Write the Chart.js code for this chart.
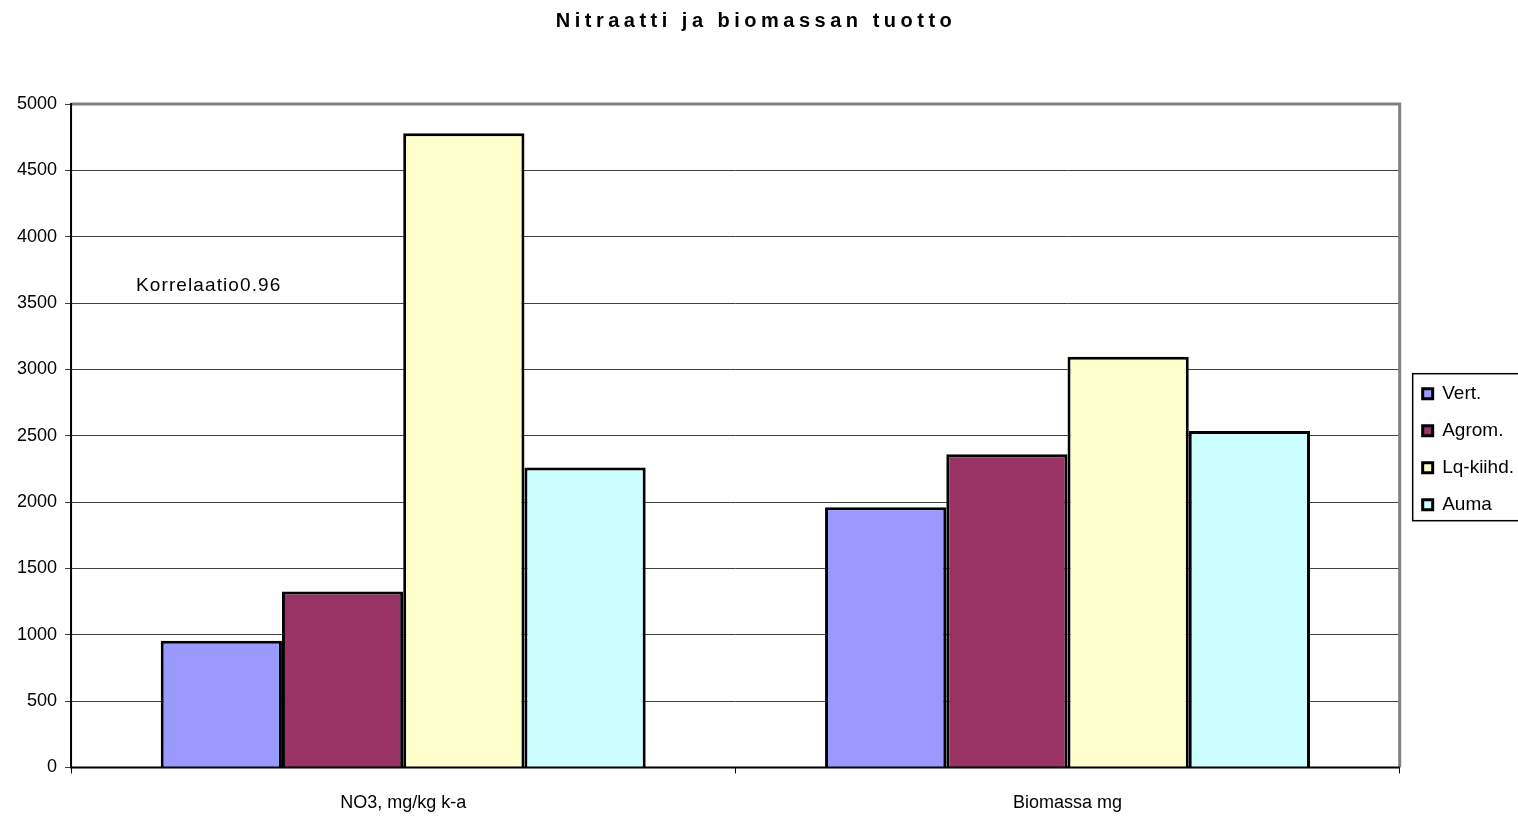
<!DOCTYPE html>
<html>
<head>
<meta charset="utf-8">
<script src="https://cdn.jsdelivr.net/npm/chart.js@4/dist/chart.umd.min.js"></script>
<style>
  html, body { margin: 0; padding: 0; background: #fff; }
  #wrap { width: 1518px; height: 816px; }
</style>
</head>
<body>
<div id="wrap"><canvas id="c" width="1518" height="816"></canvas></div>
<script>
const titleText = "Nitraatti ja biomassan tuotto";
const categories = ["NO3, mg/kg k-a", "Biomassa mg"];
const seriesNames = ["Vert.", "Agrom.", "Lq-kiihd.", "Auma"];
const vert = [955, 1960];
const agrom = [1325, 2360];
const lqKiihd = [4780, 3095];
const auma = [2260, 2535];
const seriesColors = ["#9999FF", "#993366", "#FFFFCC", "#CCFFFF"];
const yTicks = [0, 500, 1000, 1500, 2000, 2500, 3000, 3500, 4000, 4500, 5000];
const noteText = "Korrelaatio0.96";
const noteValue = 3590;

const FONT = "'Liberation Sans', Arial, sans-serif";
const seriesValues = [vert, agrom, lqKiihd, auma];

const decor = {
  id: 'decor',
  afterDraw(chart) {
    const ctx = chart.ctx;
    const a = chart.chartArea;
    ctx.save();
    // gray top/right frame
    ctx.strokeStyle = '#808080';
    ctx.lineWidth = 3;
    ctx.beginPath();
    ctx.moveTo(a.left, a.top);
    ctx.lineTo(a.right, a.top);
    ctx.lineTo(a.right, a.bottom);
    ctx.stroke();
    // black axes
    ctx.strokeStyle = '#000';
    ctx.lineWidth = 2;
    ctx.beginPath();
    ctx.moveTo(a.left, a.top - 1);
    ctx.lineTo(a.left, a.bottom);
    ctx.lineTo(a.right, a.bottom);
    ctx.stroke();
    // legend frame around the items
    const hb = chart.legend.legendHitBoxes;
    if (hb && hb.length) {
      const c0 = hb[0].top + hb[0].height / 2;
      const last = hb[hb.length - 1];
      const c1 = last.top + last.height / 2;
      const l = hb[0].left - 10;
      const t = c0 - 20;
      const b = c1 + 16;
      ctx.strokeStyle = '#000';
      ctx.lineWidth = 1.5;
      ctx.strokeRect(l, t, chart.width - l + 20, b - t);
    }
    // title
    ctx.fillStyle = '#000';
    ctx.font = "bold 20px " + FONT;
    ctx.textAlign = 'center';
    ctx.textBaseline = 'middle';
    ctx.letterSpacing = '4.5px';
    ctx.fillText(titleText, 756, 21);
    // note
    ctx.letterSpacing = '1.1px';
    ctx.font = "19px " + FONT;
    ctx.textAlign = 'left';
    ctx.textBaseline = 'alphabetic';
    const y = chart.scales.y.getPixelForValue(noteValue);
    ctx.fillText(noteText, a.left + 65, y);
    ctx.restore();
  }
};

new Chart(document.getElementById('c'), {
  type: 'bar',
  data: {
    labels: categories,
    datasets: seriesNames.map((n, i) => ({
      label: n,
      data: seriesValues[i],
      backgroundColor: seriesColors[i],
      borderColor: '#000',
      borderWidth: 3,
      borderSkipped: 'start',
      categoryPercentage: 0.73,
      barPercentage: 1.0
    }))
  },
  options: {
    responsive: false,
    animation: false,
    layout: { padding: { top: 104, right: -6, left: 9, bottom: -17 } },
    plugins: {
      title: { display: false },
      tooltip: { enabled: false },
      legend: {
        position: 'right',
        align: 'center',
        fullSize: false,
        title: { display: true, text: ' ', font: { size: 10 }, padding: { top: 7, bottom: 8 } },
        labels: {
          color: '#000',
          font: { family: FONT, size: 19 },
          boxWidth: 10,
          boxHeight: 10,
          padding: 18
        }
      }
    },
    scales: {
      x: {
        grid: { display: true, drawOnChartArea: false, drawTicks: true, tickLength: 6, color: '#000', lineWidth: 1, offset: true },
        border: { display: false },
        ticks: { color: '#000', font: { family: FONT, size: 18 }, padding: 19 }
      },
      y: {
        min: 0,
        max: 5000,
        afterBuildTicks: (s) => { s.ticks = yTicks.map(v => ({ value: v })); },
        grid: { color: '#404040', lineWidth: 1, tickLength: 6, drawTicks: true },
        border: { display: false },
        ticks: { color: '#000', font: { family: FONT, size: 18 }, padding: 8, callback: (v) => String(v) }
      },
      yGap: {
        position: 'right',
        display: true,
        min: 0,
        max: 5000,
        grid: { display: false, drawTicks: false },
        border: { display: false },
        ticks: { display: false },
        afterFit: (s) => { s.width = 5; }
      }
    }
  },
  plugins: [decor]
});
</script>
</body>
</html>
